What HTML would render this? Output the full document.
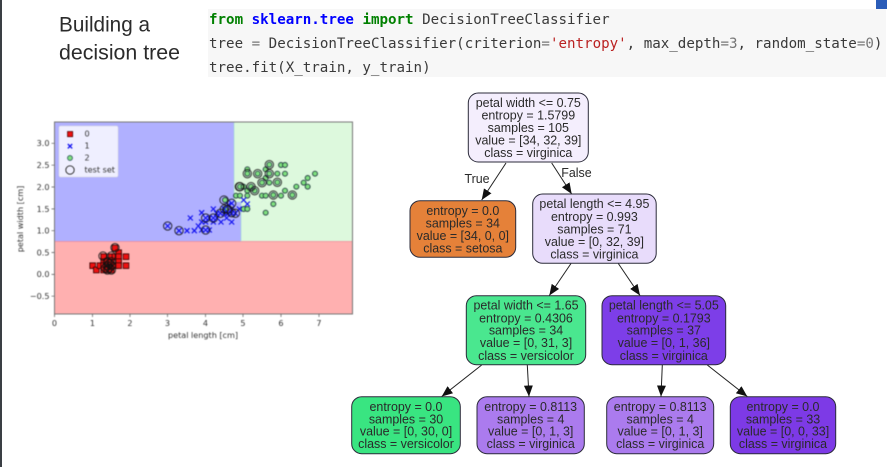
<!DOCTYPE html>
<html>
<head>
<meta charset="utf-8">
<style>
html,body{margin:0;padding:0;background:#fff;width:887px;height:467px;overflow:hidden}
svg{display:block}
.n{font-family:"Liberation Sans",Arial,sans-serif;font-size:12.45px;fill:#2a2a2a;text-anchor:middle}
.c{font-family:"DejaVu Sans Mono","Liberation Mono",monospace;font-size:14.17px;fill:#3a3a3a}
.h{font-family:"Liberation Sans",Arial,sans-serif;font-size:21.5px;fill:#2b2b2b}
.t{font-family:"DejaVu Sans","Liberation Sans",sans-serif;font-size:8.1px;fill:#333}
.nb{stroke:#2b2b3a;stroke-width:1}
.e{stroke:#222;stroke-width:1;fill:none}
</style>
</head>
<body>
<svg width="887" height="467" viewBox="0 0 887 467" xmlns="http://www.w3.org/2000/svg">
<defs>
<g id="g"><circle r="7.5" fill="#7fe07f" stroke="#123" stroke-opacity=".85" stroke-width="2.8"/></g>
<g id="b"><path d="M-7.5,-7.5L7.5,7.5M-7.5,7.5L7.5,-7.5" stroke="#1010f0" stroke-width="3.6" fill="none"/></g>
<g id="r"><rect x="-8.5" y="-8.5" width="17" height="17" fill="#ee1111" stroke="#300" stroke-width="2.4"/></g>
<g id="o"><circle r="12.5" fill="none" stroke="#111" stroke-opacity=".85" stroke-width="3"/></g>
<marker id="a" markerUnits="userSpaceOnUse" markerWidth="12" markerHeight="10" refX="11" refY="4.5" orient="auto"><path d="M0,0L11,4.5L0,9z" fill="#111"/></marker>
</defs>

<rect width="887" height="467" fill="#fff"/>
<rect x="0" y="0" width="2" height="467" fill="#3a3f44"/>
<rect x="876" y="0" width="11" height="9" fill="#2a5cb8"/>

<text class="h" x="59" y="31.5" textLength="91" lengthAdjust="spacingAndGlyphs">Building a</text>
<text class="h" x="59" y="59.5" textLength="121" lengthAdjust="spacingAndGlyphs">decision tree</text>

<rect x="208" y="9" width="678" height="68" fill="#f7f7f7"/>
<text class="c" x="209" y="24"><tspan fill="#008000" font-weight="bold">from</tspan> <tspan fill="#0000ff" font-weight="bold">sklearn.tree</tspan> <tspan fill="#008000" font-weight="bold">import</tspan> DecisionTreeClassifier</text>
<text class="c" x="209" y="48">tree <tspan fill="#777">=</tspan> DecisionTreeClassifier(criterion<tspan fill="#777">=</tspan><tspan fill="#ba2121">'entropy'</tspan>, max_depth<tspan fill="#777">=3</tspan>, random_state<tspan fill="#777">=0</tspan>)</text>
<text class="c" x="209" y="72">tree.fit(X_train, y_train)</text>

<!-- plot -->
<g style="filter:blur(.45px)">
<rect x="54.5" y="122" width="298" height="192" fill="#b0b0ff"/>
<rect x="54.5" y="241.5" width="298" height="72.5" fill="#ffb0b0"/>
<path d="M234,122H352.5V241.5H241V202H234z" fill="#ddf9dd"/>
<path d="M54.5,241.5H352.5" stroke="#f08a9a" stroke-width=".8"/>
<path d="M234,122V202H241V241.5" stroke="#a0d8d8" stroke-width=".6" fill="none"/>

<g transform="translate(0,110) scale(.33333)">
<use href="#r" x="278" y="467"/><use href="#r" x="289" y="480"/><use href="#r" x="300" y="467"/>
<use href="#r" x="311" y="440"/><use href="#r" x="311" y="455"/><use href="#r" x="311" y="467"/><use href="#r" x="311" y="480"/>
<use href="#r" x="322" y="455"/>
<use href="#r" x="322" y="467"/><use href="#r" x="322" y="480"/><use href="#r" x="334" y="480"/>
<use href="#r" x="334" y="467"/><use href="#r" x="334" y="455"/><use href="#r" x="334" y="440"/>
<use href="#r" x="345" y="414"/><use href="#r" x="345" y="440"/><use href="#r" x="345" y="467"/>
<use href="#r" x="356" y="428"/><use href="#r" x="356" y="440"/><use href="#r" x="356" y="455"/>
<use href="#r" x="356" y="467"/><use href="#r" x="378" y="440"/><use href="#r" x="378" y="467"/>
<use href="#o" x="309" y="438"/><use href="#o" x="345" y="413"/><use href="#o" x="334" y="438"/>
<use href="#o" x="322" y="480"/><use href="#o" x="334" y="480"/><use href="#o" x="322" y="467"/>
<use href="#o" x="334" y="455"/><use href="#o" x="322" y="455"/><use href="#o" x="334" y="467"/>
<use href="#o" x="316" y="474"/><use href="#o" x="328" y="474"/><use href="#o" x="328" y="461"/>
</g>

<g transform="translate(150,150) scale(.33333)">
<use href="#g" x="292" y="58"/><use href="#g" x="358" y="44"/><use href="#g" x="393" y="45"/><use href="#g" x="405" y="45"/>
<use href="#g" x="347" y="58"/><use href="#g" x="292" y="71"/><use href="#g" x="323" y="71"/><use href="#g" x="358" y="71"/>
<use href="#g" x="382" y="71"/><use href="#g" x="405" y="71"/><use href="#g" x="495" y="71"/><use href="#g" x="473" y="84"/>
<use href="#g" x="347" y="84"/><use href="#g" x="336" y="98"/><use href="#g" x="358" y="98"/><use href="#g" x="382" y="97"/>
<use href="#g" x="461" y="98"/><use href="#g" x="473" y="110"/><use href="#g" x="439" y="110"/><use href="#g" x="270" y="110"/>
<use href="#g" x="281" y="110"/><use href="#g" x="292" y="122"/><use href="#g" x="303" y="110"/><use href="#g" x="314" y="122"/>
<use href="#g" x="405" y="122"/><use href="#g" x="258" y="137"/><use href="#g" x="270" y="137"/><use href="#g" x="292" y="137"/>
<use href="#g" x="336" y="137"/><use href="#g" x="347" y="137"/><use href="#g" x="370" y="135"/><use href="#g" x="393" y="137"/>
<use href="#g" x="427" y="135"/><use href="#g" x="370" y="162"/><use href="#g" x="281" y="177"/><use href="#g" x="292" y="177"/>
<use href="#g" x="347" y="188"/><use href="#g" x="225" y="150"/><use href="#g" x="225" y="177"/>

<use href="#b" x="121" y="204"/><use href="#b" x="53" y="228"/><use href="#b" x="87" y="242"/><use href="#b" x="111" y="242"/>
<use href="#b" x="133" y="242"/><use href="#b" x="145" y="228"/><use href="#b" x="155" y="240"/><use href="#b" x="167" y="240"/>
<use href="#b" x="178" y="240"/><use href="#b" x="155" y="216"/><use href="#b" x="167" y="216"/><use href="#b" x="155" y="188"/>
<use href="#b" x="190" y="177"/><use href="#b" x="167" y="204"/><use href="#b" x="178" y="204"/><use href="#b" x="190" y="204"/>
<use href="#b" x="201" y="204"/><use href="#b" x="213" y="216"/><use href="#b" x="211" y="190"/><use href="#b" x="223" y="177"/>
<use href="#b" x="235" y="165"/><use href="#b" x="245" y="160"/><use href="#b" x="245" y="190"/><use href="#b" x="256" y="190"/>
<use href="#b" x="268" y="177"/><use href="#b" x="292" y="162"/><use href="#b" x="281" y="150"/><use href="#b" x="245" y="216"/>
<use href="#b" x="230" y="204"/><use href="#b" x="190" y="216"/><use href="#b" x="234" y="190"/><use href="#b" x="200" y="190"/>
<use href="#b" x="245" y="178"/><use href="#b" x="223" y="190"/>

<use href="#o" x="358" y="44"/><use href="#o" x="292" y="71"/><use href="#o" x="323" y="71"/><use href="#o" x="358" y="71"/>
<use href="#o" x="336" y="98"/><use href="#o" x="382" y="97"/><use href="#o" x="270" y="110"/><use href="#o" x="303" y="110"/>
<use href="#o" x="314" y="122"/><use href="#o" x="370" y="135"/><use href="#o" x="427" y="135"/><use href="#o" x="222" y="150"/>
<use href="#o" x="53" y="228"/><use href="#o" x="87" y="242"/><use href="#o" x="167" y="240"/><use href="#o" x="167" y="204"/>
<use href="#o" x="190" y="204"/><use href="#o" x="211" y="190"/><use href="#o" x="223" y="177"/><use href="#o" x="245" y="160"/>
<use href="#o" x="245" y="188"/><use href="#o" x="256" y="190"/><use href="#o" x="268" y="110"/><use href="#o" x="233" y="178"/>
</g>

<rect x="54.5" y="122" width="298" height="192" fill="none" stroke="#777" stroke-width="1"/>

<!-- legend -->
<rect x="59" y="126" width="59" height="51" rx="1.5" fill="#fff" fill-opacity=".8" stroke="#ddd" stroke-width=".5"/>
<rect x="67.5" y="131.5" width="5.2" height="5.2" fill="#ee1111" stroke="#400" stroke-width=".7"/>
<path d="M67.8,144L72.2,148.4M67.8,148.4L72.2,144" stroke="#1010f0" stroke-width="1.3"/>
<circle cx="70" cy="158" r="2.5" fill="#7fe07f" stroke="#245" stroke-width=".7"/>
<circle cx="70" cy="170" r="4.2" fill="none" stroke="#222" stroke-width=".9"/>
<text class="t" x="84.5" y="136.5">0</text>
<text class="t" x="84.5" y="148.5">1</text>
<text class="t" x="84.5" y="160.5">2</text>
<text class="t" x="84.5" y="172.5">test set</text>

<!-- ticks -->
<path d="M54.5,314v3M92.5,314v3M130,314v3M167.5,314v3M205.5,314v3M243,314v3M281,314v3M319,314v3" stroke="#555" stroke-width=".7"/>
<path d="M54.5,143.3h-3M54.5,165.2h-3M54.5,187h-3M54.5,208.9h-3M54.5,230.7h-3M54.5,252.5h-3M54.5,274.4h-3M54.5,296.2h-3" stroke="#555" stroke-width=".7"/>
<g class="t" text-anchor="middle">
<text x="54.5" y="326">0</text><text x="92.5" y="326">1</text><text x="130" y="326">2</text><text x="167.5" y="326">3</text>
<text x="205.5" y="326">4</text><text x="243" y="326">5</text><text x="281" y="326">6</text><text x="319" y="326">7</text>
<text x="203" y="338">petal length [cm]</text>
</g>
<g class="t" text-anchor="end">
<text x="49.5" y="146.2">3.0</text><text x="49.5" y="168">2.5</text><text x="49.5" y="190">2.0</text><text x="49.5" y="211.8">1.5</text>
<text x="49.5" y="233.6">1.0</text><text x="49.5" y="255.4">0.5</text><text x="49.5" y="277.2">0.0</text><text x="49.5" y="299">−0.5</text>
</g>
<text class="t" transform="translate(23,219) rotate(-90)" text-anchor="middle">petal width [cm]</text>
</g>

<!-- edges -->
<path class="e" d="M506,163L481.7,200" marker-end="url(#a)"/>
<path class="e" d="M551.7,163L571.7,194" marker-end="url(#a)"/>
<path class="e" d="M571,263.5L549.3,295.5" marker-end="url(#a)"/>
<path class="e" d="M618.3,263.5L640,295.5" marker-end="url(#a)"/>
<path class="e" d="M481.7,365L441.7,396.5" marker-end="url(#a)"/>
<path class="e" d="M527.3,365L529,396.5" marker-end="url(#a)"/>
<path class="e" d="M662.3,365L661,396.5" marker-end="url(#a)"/>
<path class="e" d="M707.3,365L747.3,396.5" marker-end="url(#a)"/>
<text class="n" x="477" y="183">True</text>
<text class="n" x="576.5" y="177">False</text>

<!-- nodes -->
<rect class="nb" x="468.3" y="93" width="120" height="69" rx="10" fill="#f4eefd"/>
<text class="n" x="528.3" y="107">petal width &lt;= 0.75</text>
<text class="n" x="528.3" y="119.5">entropy = 1.5799</text>
<text class="n" x="528.3" y="132">samples = 105</text>
<text class="n" x="528.3" y="144.5">value = [34, 32, 39]</text>
<text class="n" x="528.3" y="157">class = virginica</text>

<rect class="nb" x="410" y="200.7" width="105.7" height="56.6" rx="10" fill="#e58139"/>
<text class="n" x="462.8" y="215">entropy = 0.0</text>
<text class="n" x="462.8" y="227.5">samples = 34</text>
<text class="n" x="462.8" y="240">value = [34, 0, 0]</text>
<text class="n" x="462.8" y="252.5">class = setosa</text>

<rect class="nb" x="532.7" y="194" width="123.5" height="69.3" rx="10" fill="#e8dcfb"/>
<text class="n" x="594.4" y="208">petal length &lt;= 4.95</text>
<text class="n" x="594.4" y="221">entropy = 0.993</text>
<text class="n" x="594.4" y="233.5">samples = 71</text>
<text class="n" x="594.4" y="246">value = [0, 32, 39]</text>
<text class="n" x="594.4" y="258.5">class = virginica</text>

<rect class="nb" x="466.3" y="295.7" width="119.4" height="69" rx="10" fill="#4ae78f"/>
<text class="n" x="526" y="309.5">petal width &lt;= 1.65</text>
<text class="n" x="526" y="322.5">entropy = 0.4306</text>
<text class="n" x="526" y="334.5">samples = 34</text>
<text class="n" x="526" y="347">value = [0, 31, 3]</text>
<text class="n" x="526" y="360">class = versicolor</text>

<rect class="nb" x="602" y="295.7" width="123.7" height="69" rx="10" fill="#7d3ee8"/>
<text class="n" x="663.8" y="309.5">petal length &lt;= 5.05</text>
<text class="n" x="663.8" y="322.5">entropy = 0.1793</text>
<text class="n" x="663.8" y="334.5">samples = 37</text>
<text class="n" x="663.8" y="347">value = [0, 1, 36]</text>
<text class="n" x="663.8" y="360">class = virginica</text>

<rect class="nb" x="351.7" y="396.7" width="108.6" height="57" rx="10" fill="#39e581"/>
<text class="n" x="406" y="411">entropy = 0.0</text>
<text class="n" x="406" y="423.5">samples = 30</text>
<text class="n" x="406" y="435.5">value = [0, 30, 0]</text>
<text class="n" x="406" y="448">class = versicolor</text>

<rect class="nb" x="477" y="396.7" width="107.3" height="57" rx="10" fill="#ab7bee"/>
<text class="n" x="530.7" y="411">entropy = 0.8113</text>
<text class="n" x="530.7" y="423.5">samples = 4</text>
<text class="n" x="530.7" y="435.5">value = [0, 1, 3]</text>
<text class="n" x="530.7" y="448">class = virginica</text>

<rect class="nb" x="606.7" y="396.7" width="107" height="57" rx="10" fill="#ab7bee"/>
<text class="n" x="660.2" y="411">entropy = 0.8113</text>
<text class="n" x="660.2" y="423.5">samples = 4</text>
<text class="n" x="660.2" y="435.5">value = [0, 1, 3]</text>
<text class="n" x="660.2" y="448">class = virginica</text>

<rect class="nb" x="730.3" y="396.7" width="105.4" height="57" rx="10" fill="#7d3ae6"/>
<text class="n" x="783" y="411">entropy = 0.0</text>
<text class="n" x="783" y="423.5">samples = 33</text>
<text class="n" x="783" y="435.5">value = [0, 0, 33]</text>
<text class="n" x="783" y="448">class = virginica</text>
</svg>
</body>
</html>
